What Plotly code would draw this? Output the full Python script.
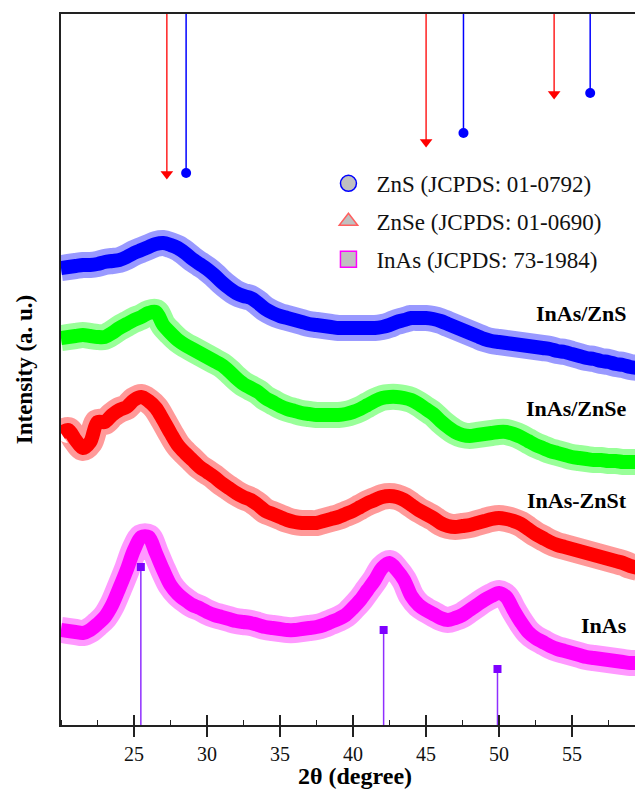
import plotly.graph_objects as go

# ---------------- data ----------------
two_theta = [20 + 0.5 * i for i in range(80)]  # 20.0 ... 59.5

inas_zns = [457, 458, 459, 460, 460, 461, 463, 464, 465, 468,
            472, 475, 478, 481, 482, 480, 477, 472, 466, 461,
            456, 450, 443, 437, 432, 429, 427, 422, 416, 412,
            409, 407, 405, 403, 401, 400, 399, 398, 397, 397,
            397, 397, 397, 397, 398, 400, 403, 405, 407, 407,
            407, 406, 404, 401, 398, 395, 392, 389, 386, 384,
            383, 382, 381, 380, 379, 378, 377, 376, 374, 373,
            371, 369, 367, 366, 364, 363, 361, 360, 358, 357]

inas_znse = [387, 388, 389, 390, 389, 388, 388, 392, 397, 401,
             405, 408, 412, 413, 400, 392, 385, 380, 376, 372,
             368, 364, 360, 354, 347, 341, 337, 333, 327, 323,
             319, 316, 314, 312, 311, 310, 310, 310, 310, 311,
             313, 316, 320, 324, 327, 328, 328, 327, 325, 321,
             316, 311, 304, 298, 293, 290, 289, 290, 291, 292,
             293, 293, 291, 288, 284, 280, 277, 274, 272, 270,
             268, 267, 266, 265, 265, 264, 264, 263, 263, 263]

inas_znst = [292, 295, 285, 277, 283, 303, 303, 310, 315, 318,
             325, 328, 324, 317, 305, 292, 280, 272, 265, 258,
             253, 248, 242, 237, 232, 228, 225, 220, 214, 211,
             208, 205, 203, 202, 202, 202, 204, 206, 208, 211,
             214, 218, 222, 225, 228, 229, 228, 225, 220, 215,
             211, 207, 202, 199, 198, 199, 200, 202, 204, 206,
             207, 206, 204, 201, 196, 191, 187, 183, 180, 178,
             176, 174, 172, 170, 168, 166, 164, 162, 159, 157]

inas = [95, 94, 93, 92, 95, 101, 108, 120, 137, 155,
        175, 188, 188, 172, 155, 140, 131, 125, 120, 117,
        113, 110, 108, 106, 104, 103, 102, 100, 98, 97,
        96, 95, 95, 96, 97, 98, 100, 103, 106, 110,
        117, 125, 135, 145, 157, 162, 155, 145, 129, 120,
        115, 111, 107, 105, 107, 110, 115, 120, 125, 129,
        132, 128, 115, 103, 93, 87, 83, 79, 76, 74,
        72, 70, 68, 67, 66, 65, 64, 63, 62, 62]

curve_names = ["InAs/ZnS", "InAs/ZnSe", "InAs-ZnSt", "InAs"]
curve_colors = ["#0000ff", "#00ff00", "#ff0000", "#ff00ff"]
curve_halo = ["rgba(0,0,255,0.4)", "rgba(0,255,0,0.4)",
              "rgba(255,0,0,0.4)", "rgba(255,0,255,0.4)"]
curve_label_y = [412, 317, 225, 100]

# reference patterns
zns_pos = [28.57, 47.57, 56.25]
zns_tip = [552, 592, 632]
znse_pos = [27.25, 45.01, 53.78]
znse_tip = [551, 583, 631]
inas_ref_pos = [25.47, 42.1, 49.9]
inas_ref_tip = [158, 95, 56]

legend_labels = ["ZnS (JCPDS: 01-0792)", "ZnSe (JCPDS: 01-0690)", "InAs (JCPDS: 73-1984)"]

x_ticks = [25, 30, 35, 40, 45, 50, 55]

# ---------------- figure ----------------
X_RANGE = [20, 59.32]
Y_RANGE = [0, 711]
FONT = "Liberation Serif"

fig = go.Figure()

for vals, col, halo in zip([inas_zns, inas_znse, inas_znst, inas], curve_colors, curve_halo):
    fig.add_trace(go.Scatter(x=two_theta, y=vals, mode="lines",
                             line=dict(color=halo, width=26, shape="spline", smoothing=0.9),
                             showlegend=False, hoverinfo="skip"))
    fig.add_trace(go.Scatter(x=two_theta, y=vals, mode="lines",
                             line=dict(color=col, width=14, shape="spline", smoothing=0.9),
                             showlegend=False, hoverinfo="skip"))


def sticks(pos, tip, base):
    xs, ys = [], []
    for p, t in zip(pos, tip):
        xs += [p, p, None]
        ys += [base, t, None]
    return xs, ys


xs, ys = sticks(zns_pos, zns_tip, Y_RANGE[1])
fig.add_trace(go.Scatter(x=xs, y=ys, mode="lines", line=dict(color="#0000ff", width=1.5),
                         showlegend=False, hoverinfo="skip"))
fig.add_trace(go.Scatter(x=zns_pos, y=zns_tip, mode="markers",
                         marker=dict(symbol="circle", size=10, color="#0000ff"),
                         showlegend=False, hoverinfo="skip"))

xs, ys = sticks(znse_pos, znse_tip, Y_RANGE[1])
fig.add_trace(go.Scatter(x=xs, y=ys, mode="lines", line=dict(color="#ff2020", width=1.5),
                         showlegend=False, hoverinfo="skip"))
fig.add_trace(go.Scatter(x=znse_pos, y=znse_tip, mode="markers",
                         marker=dict(symbol="triangle-down", size=11, color="#ff0000"),
                         showlegend=False, hoverinfo="skip"))

xs, ys = sticks(inas_ref_pos, inas_ref_tip, Y_RANGE[0])
fig.add_trace(go.Scatter(x=xs, y=ys, mode="lines", line=dict(color="#8f2fff", width=1.5),
                         showlegend=False, hoverinfo="skip"))
fig.add_trace(go.Scatter(x=inas_ref_pos, y=inas_ref_tip, mode="markers",
                         marker=dict(symbol="square", size=8, color="#7f00ff"),
                         showlegend=False, hoverinfo="skip"))

# legend entries
leg_symbols = ["circle", "triangle-up", "square"]
leg_lines = ["#0000ff", "#ff6060", "#ff00ff"]
for i, (lab, sym, lc) in enumerate(zip(legend_labels, leg_symbols, leg_lines)):
    fig.add_trace(go.Scatter(x=[None], y=[None], mode="markers", name=lab,
                             legendgroup=f"g{i}",
                             marker=dict(symbol=sym, size=16, color="#c0c0c0",
                                         line=dict(color=lc, width=1.5))))

for name, yl in zip(curve_names, curve_label_y):
    fig.add_annotation(x=58.9, y=yl, text=f"<b>{name}</b>", showarrow=False,
                       xanchor="right", yanchor="middle",
                       font=dict(family=FONT, size=22, color="black"))

fig.add_annotation(x=0.512, y=-0.0717, xref="paper", yref="paper",
                   text="<b>2θ (degree)</b>", showarrow=False,
                   xanchor="center", yanchor="middle",
                   font=dict(family=FONT, size=24, color="black"))

fig.update_layout(
    width=635, height=792,
    margin=dict(l=61, r=0, t=14, b=67),
    paper_bgcolor="white", plot_bgcolor="white",
    font=dict(family=FONT, color="black"),
    legend=dict(x=0.452, y=0.792, xanchor="left", yanchor="top",
                font=dict(family=FONT, size=23, color="#111"),
                bgcolor="rgba(0,0,0,0)", itemwidth=46, tracegroupgap=5,
                itemsizing="trace"),
    xaxis=dict(range=X_RANGE, tickvals=x_ticks, ticks="outside", ticklen=10,
               tickwidth=1.5, tickcolor="#222", showline=True, linewidth=2,
               linecolor="#222", mirror=True, showgrid=False, zeroline=False,
               tickfont=dict(family=FONT, size=20, color="#111"),
               minor=dict(dtick=2.5, tick0=0, ticks="inside", ticklen=5,
                          tickwidth=1.2, tickcolor="#222", showgrid=False)),
    xaxis2=dict(range=X_RANGE, overlaying="x", matches="x", side="bottom",
                anchor="y", tickvals=x_ticks, ticks="inside", ticklen=10,
                tickwidth=1.5, tickcolor="#222", showticklabels=False,
                showgrid=False, zeroline=False, showline=False),
    yaxis=dict(range=Y_RANGE, showticklabels=False, ticks="", showline=True,
               linewidth=2, linecolor="#222", mirror=False, showgrid=False,
               zeroline=False,
               title=dict(text="<b>Intensity (a. u.)</b>", standoff=20,
                          font=dict(family=FONT, size=23, color="black"))),
)

# dummy trace to activate xaxis2
fig.add_trace(go.Scatter(x=[None], y=[None], xaxis="x2", yaxis="y", showlegend=False,
                         hoverinfo="skip"))

fig.write_html("out.html")
